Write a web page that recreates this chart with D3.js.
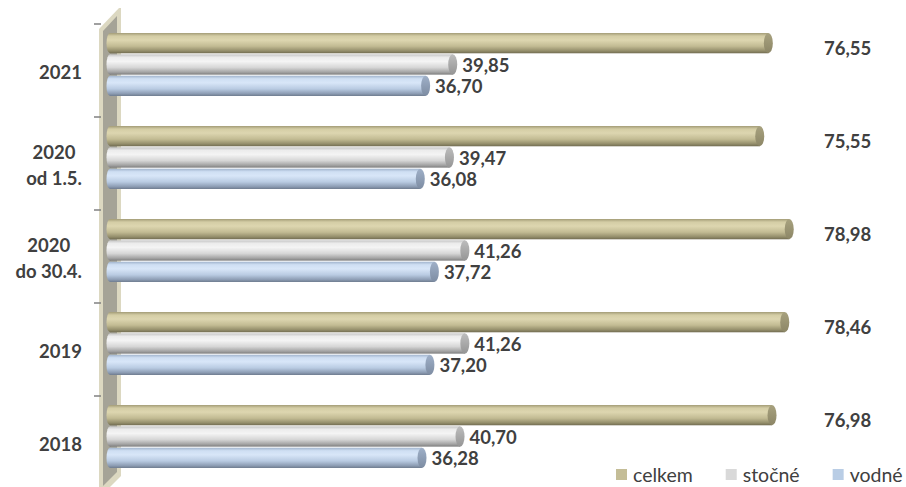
<!DOCTYPE html>
<html>
<head>
<meta charset="utf-8">
<script src="https://cdn.jsdelivr.net/npm/d3@7"></script>
<style>
  html, body { margin: 0; padding: 0; background: #fff; }
  svg { display: block; }
</style>
</head>
<body>
<svg id="chart" width="906" height="487"></svg>
<script>
const categories = ["2021", "2020\nod 1.5.", "2020\ndo 30.4.", "2019", "2018"];
const seriesNames = ["celkem", "stočné", "vodné"];
const celkem = [76.55, 75.55, 78.98, 78.46, 76.98];
const stocne = [39.85, 39.47, 41.26, 41.26, 40.70];
const vodne  = [36.70, 36.08, 37.72, 37.20, 36.28];
const xDomain = [0, 80];

const seriesValues = [celkem, stocne, vodne];
const styles = {
  "celkem": { stops: ["#a39c77", "#d4cda5", "#ddd6b0", "#c2bb93", "#948e6b", "#716c51"], cap: ["#a8a27f", "#8c8666"], swatch: "#c4bd97" },
  "stočné": { stops: ["#c4c4c4", "#ececec", "#f4f4f4", "#d6d6d6", "#a3a3a3", "#7e7e7e"], cap: ["#bdbdbd", "#959595"], swatch: "#d9d9d9" },
  "vodné":  { stops: ["#a0b3cc", "#cfdff3", "#d8e6f8", "#b9cbe2", "#8d9db4", "#6f7c8f"], cap: ["#9fb0c8", "#7d8ca2"], swatch: "#b9cde5" }
};
const offs = [0, 0.15, 0.35, 0.65, 0.88, 1];

const svg = d3.select("#chart");
const defs = svg.append("defs");
seriesNames.forEach((s, i) => {
  const g = defs.append("linearGradient").attr("id", "g" + i).attr("x1", 0).attr("y1", 0).attr("x2", 0).attr("y2", 1);
  styles[s].stops.forEach((c, k) => g.append("stop").attr("offset", offs[k]).attr("stop-color", c));
  const gc = defs.append("linearGradient").attr("id", "c" + i).attr("x1", 0).attr("y1", 0).attr("x2", 0).attr("y2", 1);
  gc.append("stop").attr("offset", 0).attr("stop-color", styles[s].cap[0]);
  gc.append("stop").attr("offset", 1).attr("stop-color", styles[s].cap[1]);
});

const x = d3.scaleLinear().domain(xDomain).range([110, 798]);
const y = d3.scaleBand().domain(categories).range([24, 489]).paddingInner(0).paddingOuter(0);
const ySub = d3.scaleBand().domain(seriesNames).range([9, 72]).paddingInner(0.05);

// side wall
svg.append("polygon")
  .attr("points", "99,29 119,8 121,8 121,476 101,496 99,496")
  .attr("fill", "#dcd8c1");
svg.append("polygon")
  .attr("points", "103,31 117,16 117,472 103,486")
  .attr("fill", "#a5a397");

// ticks
const tickYs = categories.map(c => y(c)).concat([y(categories[categories.length - 1]) + y.bandwidth()]);
svg.selectAll("line.tick").data(tickYs).enter().append("line")
  .attr("x1", 94).attr("x2", 101).attr("y1", d => d).attr("y2", d => d)
  .attr("stroke", "#808080").attr("stroke-width", 1.5);

// bars
const font = "Lato, 'Open Sans', sans-serif";
const rx = 4.5;
seriesNames.forEach((s, i) => {
  const vals = seriesValues[i];
  const g = svg.append("g");
  categories.forEach((c, j) => {
    const v = vals[j];
    const by = y(c) + ySub(s);
    const h = ySub.bandwidth();
    g.append("ellipse").attr("cx", x(0)).attr("cy", by + h / 2).attr("rx", 3.5).attr("ry", h / 2)
      .attr("fill", `url(#g${i})`);
    g.append("rect").attr("x", x(0)).attr("y", by).attr("width", x(v) - x(0)).attr("height", h)
      .attr("fill", `url(#g${i})`);
    g.append("ellipse").attr("cx", x(v)).attr("cy", by + h / 2).attr("rx", rx).attr("ry", h / 2)
      .attr("fill", `url(#c${i})`);
    const label = v.toFixed(2).replace(".", ",");
    let lx, ly;
    if (s === "celkem") { lx = 824; ly = by + h / 2 + 5; }
    else { lx = x(v) + rx + 5; ly = by + h / 2 + 1; }
    g.append("text").attr("x", lx).attr("y", ly + 6.5)
      .attr("font-family", font).attr("font-weight", "bold").attr("font-size", 18.5)
      .attr("fill", "#404040").text(label);
  });
});

// category labels
categories.forEach(c => {
  const lines = c.split("\n");
  const cy = y(c) + y.bandwidth() / 2 + 1.5;
  const t = svg.append("text").attr("font-family", font).attr("font-weight", "bold")
    .attr("font-size", 18.5).attr("fill", "#404040").attr("text-anchor", "middle");
  const lh = 26;
  lines.forEach((ln, k) => {
    t.append("tspan").attr("x", 0).attr("y", cy + 6.5 + (k - (lines.length - 1) / 2) * lh).text(ln);
  });
  const w = t.node().getBBox().width;
  t.selectAll("tspan").attr("x", 82 - w / 2);
});

// legend
let lxPos = 616;
seriesNames.forEach((s, i) => {
  svg.append("rect").attr("x", lxPos).attr("y", 469).attr("width", 11).attr("height", 11)
    .attr("fill", styles[s].swatch);
  const t = svg.append("text").attr("x", lxPos + 17).attr("y", 482)
    .attr("font-family", font).attr("font-size", 19.5).attr("fill", "#404040").text(s);
  lxPos = lxPos + 17 + t.node().getComputedTextLength() + 33;
});
</script>
</body>
</html>
